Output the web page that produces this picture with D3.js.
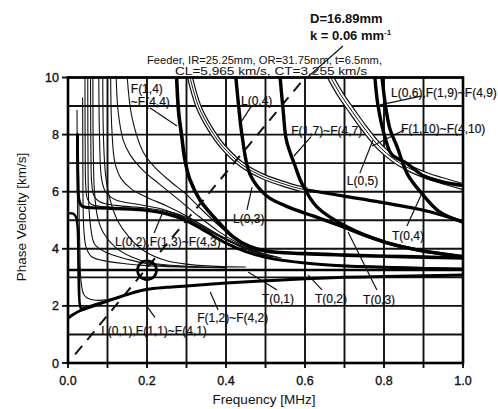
<!DOCTYPE html>
<html><head><meta charset="utf-8">
<script src="https://cdn.jsdelivr.net/npm/d3@7"></script>
<style>
body{margin:0;background:#fff}
svg{display:block}
text{font-family:"Liberation Sans",Arial,sans-serif;fill:#111}
</style>
</head><body>
<svg id="c" width="498" height="409"></svg>
<script>
// ---------- axis / tick data ----------
const xTickVals = [0, 0.2, 0.4, 0.6, 0.8, 1.0];
const xTickLabels = ["0.0", "0.2", "0.4", "0.6", "0.8", "1.0"];
const yTickVals = [0, 2, 4, 6, 8, 10];
const xGridVals = [0, 0.1, 0.2, 0.3, 0.4, 0.5, 0.6, 0.7, 0.8, 0.9, 1.0];
const yGridVals = [0, 1, 2, 3, 4, 5, 6, 7, 8, 9, 10];

// ---------- series (frequency MHz, phase velocity km/s) ----------
const L01 = [[0,5.25],[0.013,5.23],[0.02,5.12],[0.024,4.8],[0.026,4.0],[0.028,2.8],[0.03,2.05],[0.034,1.88],[0.04,1.9]];
const F11 = [[0,1.57],[0.01,1.67],[0.03,1.83],[0.06,1.98],[0.1,2.17],[0.15,2.4],[0.2,2.58],[0.25,2.65],[0.3,2.7],[0.4,2.8],[0.5,2.88],[0.6,2.95],[0.7,3.0],[0.8,3.03],[0.9,3.06],[1.0,3.08]];
const wedge = [[0.036,1.92],[0.07,2.08],[0.13,2.32],[0.18,2.52],[0.22,2.6]];
const T01 = [[0,3.255],[1.0,3.255]];
const thin1 = [[0.0228,8.86],[0.0235,7.0],[0.024,5.7],[0.025,4.0],[0.0255,2.9],[0.027,2.25],[0.032,1.98],[0.038,1.93]];
const thin2 = [[0.026,7.45],[0.027,6.2],[0.028,5.3],[0.03,4.0],[0.033,2.85],[0.04,2.4],[0.05,2.27],[0.07,2.2],[0.1,2.22],[0.14,2.35],[0.2,2.58]];
const A1 = [[0.037,9.3],[0.0375,7.5],[0.038,5.8],[0.04,4.7],[0.046,4.05],[0.06,3.72],[0.1,3.56],[0.15,3.47],[0.2,3.41],[0.3,3.36],[0.4,3.34]];
const A2 = [[0.05,10],[0.0505,7.5],[0.052,5.8],[0.057,4.8],[0.068,4.15],[0.1,3.85],[0.154,3.62],[0.2,3.48],[0.28,3.38],[0.4,3.34]];
const A3 = [[0.063,10],[0.064,7.5],[0.067,6.0],[0.075,5.1],[0.09,4.55],[0.12,4.05],[0.16,3.72],[0.21,3.5],[0.3,3.39],[0.4,3.35]];
const A4 = [[0.088,10],[0.09,7.8],[0.095,6.6],[0.105,5.8],[0.125,5.0],[0.155,4.4],[0.19,3.95],[0.25,3.58],[0.33,3.42],[0.45,3.36]];
const P1 = [[0.043,10],[0.0435,7.5],[0.045,6.2],[0.049,5.75],[0.06,5.55],[0.1,5.47],[0.2,5.38],[0.27,5.2],[0.33,4.85],[0.39,4.38],[0.44,4.05],[0.5,3.72],[0.6,3.5],[0.8,3.38],[1.0,3.31]];
const P2 = [[0.057,10],[0.058,7.5],[0.06,6.3],[0.066,5.85],[0.08,5.65],[0.12,5.52],[0.2,5.42],[0.27,5.25],[0.33,4.9],[0.39,4.42],[0.44,4.08],[0.5,3.75]];
const P3 = [[0.078,10],[0.08,7.8],[0.085,6.45],[0.095,6.0],[0.12,5.72],[0.18,5.55],[0.24,5.38],[0.3,5.05],[0.36,4.6],[0.42,4.2],[0.47,3.9],[0.52,3.7]];
const P4 = [[0.108,10],[0.111,8.2],[0.119,7.0],[0.135,6.45],[0.16,6.1],[0.2,5.8],[0.25,5.5],[0.3,5.15],[0.36,4.65],[0.42,4.22],[0.47,3.92],[0.52,3.72]];
const P5 = [[0.122,10],[0.127,8.8],[0.14,7.8],[0.157,7.3],[0.19,6.75],[0.233,6.25],[0.28,5.72],[0.33,5.15],[0.38,4.62],[0.43,4.2],[0.48,3.88],[0.53,3.7]];
const P6 = [[0.15,10],[0.162,8.6],[0.19,7.4],[0.22,6.85],[0.26,6.35],[0.3,5.9],[0.34,5.35],[0.39,4.72],[0.44,4.18],[0.49,3.85],[0.54,3.68]];
const L02 = [[0.024,8.0],[0.025,6.5],[0.028,5.7],[0.035,5.5],[0.1,5.42],[0.2,5.34],[0.25,5.22],[0.3,4.98],[0.35,4.6],[0.4,4.2],[0.45,3.9],[0.5,3.7],[0.6,3.5],[0.7,3.4],[0.8,3.35],[0.9,3.31],[1.0,3.29]];
const F14 = [[0.275,10],[0.28,8.8],[0.288,7.93],[0.296,7.11],[0.309,6.41],[0.334,5.71],[0.376,5.01],[0.418,4.42],[0.46,4.08],[0.5,3.92],[0.6,3.83],[0.7,3.78],[0.8,3.74],[0.9,3.71],[1.0,3.68]];
const L03 = [[0.309,10],[0.33,9.0],[0.36,8.2],[0.392,7.58],[0.44,6.95],[0.494,6.53],[0.54,6.3],[0.58,6.13],[0.605,6.06]];
const L03b = [[0.605,6.06],[0.706,5.83],[0.833,5.53],[0.916,5.3],[1.0,4.95]];
const L04 = [[0.425,10],[0.432,9.0],[0.441,7.93],[0.461,6.6],[0.503,5.85],[0.56,5.45],[0.62,5.15],[0.69,4.8],[0.75,4.48],[0.81,4.2],[0.884,3.96],[1.0,3.72]];
const F17 = [[0.537,10],[0.545,8.8],[0.553,7.8],[0.575,6.9],[0.592,6.29],[0.63,5.47],[0.706,4.77],[0.798,4.25],[0.884,3.96],[1.0,3.72]];
const F19 = [[0.665,10],[0.69,9.4],[0.72,8.8],[0.747,8.28],[0.78,7.7],[0.807,7.34],[0.84,7.0],[0.873,6.76],[0.91,6.55],[0.942,6.41],[1.0,6.18]];
const L06 = [[0.777,10],[0.785,9.0],[0.802,7.93],[0.82,7.3],[0.857,7.0],[0.9,6.55],[0.95,6.33],[1.0,6.22]];
const T04 = [[0.795,10],[0.805,8.9],[0.815,8.2],[0.833,7.58],[0.86,6.6],[0.895,5.95],[0.94,5.3],[1.0,4.93]];
const kLine = [[0.018,0.3],[0.6,10]];
const circleAt = [0.2, 3.25];

// annotation labels
const labelTexts = ["F(1,4)","~F(4,4)","L(0,4)","F(1,7)~F(4,7)","L(0,6),F(1,9)~F(4,9)","F(1,10)~F(4,10)","L(0,5)","T(0,4)","L(0,3)","L(0,2),F(1,3)~F(4,3)","T(0,1)","T(0,2)","T(0,3)","F(1,2)~F(4,2)","L(0,1),F(1,1)~F(4,1)"];
const labelF = [0.159,0.159,0.438,0.565,0.818,0.843,0.706,0.82,0.418,0.119,0.491,0.625,0.747,0.327,0.084];
const labelV = [9.46,9.0,9.04,7.99,9.32,8.06,6.23,4.31,4.9,4.1,2.1,2.1,2.07,1.44,0.98];
// pointer lines: [f1,v1,f2,v2]
const pointers = [
  [0.208,8.93,0.276,8.3],
  [0.463,8.97,0.44,8.48],
  [0.615,7.92,0.572,7.25],
  [0.894,9.35,0.79,9.04],
  [0.851,8.16,0.77,7.6],
  [0.739,6.65,0.772,7.81],
  [0.858,4.8,0.896,5.95],
  [0.453,5.36,0.466,6.16],
  [0.218,4.55,0.238,5.22],
  [0.529,2.56,0.456,3.19],
  [0.643,2.56,0.608,3.08],
  [0.782,2.56,0.709,4.59],
  [0.38,1.86,0.36,2.49],
  [0.22,1.6,0.2,1.98]
];

// ---------- drawing ----------
const svg = d3.select("#c");
const x = d3.scaleLinear().domain([0,1]).range([68,463]);
const y = d3.scaleLinear().domain([0,10]).range([363,77.5]);

svg.append("defs").append("clipPath").attr("id","clip")
  .append("rect").attr("x",68).attr("y",77.5).attr("width",395).attr("height",285.5);

const g = svg.append("g");
g.selectAll(".vg").data(xGridVals).join("line")
  .attr("x1",d=>x(d)).attr("x2",d=>x(d)).attr("y1",y(10)).attr("y2",y(0)+5)
  .attr("stroke","#111").attr("stroke-width",1.9);
g.selectAll(".hg").data(yGridVals).join("line")
  .attr("x1",x(0)).attr("x2",x(1)).attr("y1",d=>y(d)).attr("y2",d=>y(d))
  .attr("stroke","#111").attr("stroke-width",1.9);
g.selectAll(".yt").data(yTickVals).join("line")
  .attr("x1",x(0)-6).attr("x2",x(0)).attr("y1",d=>y(d)).attr("y2",d=>y(d))
  .attr("stroke","#111").attr("stroke-width",1.9);

const plot = svg.append("g").attr("clip-path","url(#clip)");
const line = d3.line().x(d=>x(d[0])).y(d=>y(d[1])).curve(d3.curveCatmullRom.alpha(0.5));

function thin(data, w){ plot.append("path").attr("d",line(data)).attr("fill","none").attr("stroke","#111").attr("stroke-width",w||1.1); }
function bold(data, w){ plot.append("path").attr("d",line(data)).attr("fill","none").attr("stroke","#000").attr("stroke-width",w||3).attr("stroke-linecap","round"); }
function triple(data, w){
  plot.append("path").attr("d",line(data)).attr("fill","none").attr("stroke","#111").attr("stroke-width",w);
  plot.append("path").attr("d",line(data)).attr("fill","none").attr("stroke","#fff").attr("stroke-width",w-2.4);
  plot.append("path").attr("d",line(data)).attr("fill","none").attr("stroke","#111").attr("stroke-width",1);
}

[thin1, thin2, A1, A2, A3, A4, P1, P2, P3, P4, P5, P6, wedge].forEach(d=>thin(d));
bold(T01, 2.4);
bold(F11, 3);
bold(L01, 2.4);
bold(L02, 3);
bold(F14, 3.6);
triple(L03, 6);
bold(L03b, 3.2);
bold(L04, 3.4);
bold(F17, 3.4);
triple(F19, 7);
bold(L06, 3.4);
bold(T04, 3.4);

plot.append("path").attr("d",d3.line().x(d=>x(d[0])).y(d=>y(d[1]))(kLine))
  .attr("fill","none").attr("stroke","#111").attr("stroke-width",2).attr("stroke-dasharray","11,8");
plot.append("circle").attr("cx",x(circleAt[0])).attr("cy",y(circleAt[1])).attr("r",9.5)
  .attr("fill","none").attr("stroke","#000").attr("stroke-width",2.6);

svg.append("rect").attr("x",68).attr("y",77.5).attr("width",395).attr("height",285.5)
  .attr("fill","none").attr("stroke","#000").attr("stroke-width",2.6);

svg.selectAll(".ptr").data(pointers).join("line")
  .attr("x1",d=>x(d[0])).attr("y1",d=>y(d[1])).attr("x2",d=>x(d[2])).attr("y2",d=>y(d[3]))
  .attr("stroke","#111").attr("stroke-width",1.2);
svg.append("line").attr("x1",343).attr("y1",46).attr("x2",x(kLine[1][0])+1).attr("y2",y(kLine[1][1])+1)
  .attr("stroke","#111").attr("stroke-width",1.2);

svg.selectAll(".lab").data(labelTexts).join("text")
  .attr("x",(d,i)=>x(labelF[i])).attr("y",(d,i)=>y(labelV[i]))
  .attr("font-size",12).attr("stroke","#111").attr("stroke-width",0.2).text(d=>d);

svg.selectAll(".xl").data(xTickVals).join("text")
  .attr("x",d=>x(d)).attr("y",385).attr("text-anchor","middle").attr("font-size",12.5)
  .attr("stroke","#111").attr("stroke-width",0.35).text((d,i)=>xTickLabels[i]);
svg.selectAll(".yl").data(yTickVals).join("text")
  .attr("x",59).attr("y",d=>y(d)+4.5).attr("text-anchor","end").attr("font-size",12.5)
  .attr("stroke","#111").attr("stroke-width",0.35).text(d=>d);

svg.append("text").attr("x",264).attr("y",404).attr("text-anchor","middle").attr("font-size",13.5).text("Frequency [MHz]");
svg.append("text").attr("transform","translate(26,217) rotate(-90)").attr("text-anchor","middle").attr("font-size",13.5).text("Phase Velocity [km/s]");

svg.append("text").attr("x",310).attr("y",23).attr("font-size",13).attr("font-weight","bold").text("D=16.89mm");
const kt = svg.append("text").attr("x",310).attr("y",40).attr("font-size",13).attr("font-weight","bold");
kt.append("tspan").text("k = 0.06 mm");
kt.append("tspan").attr("dy",-5).attr("font-size",8).text("-1");
svg.append("text").attr("x",147).attr("y",64).attr("font-size",10.5).attr("textLength",235).attr("lengthAdjust","spacingAndGlyphs").text("Feeder, IR=25.25mm, OR=31.75mm, t=6.5mm,");
svg.append("text").attr("x",175).attr("y",75).attr("font-size",10.5).attr("textLength",192).attr("lengthAdjust","spacingAndGlyphs").text("CL=5,965 km/s, CT=3.255 km/s");
</script>
</body></html>
